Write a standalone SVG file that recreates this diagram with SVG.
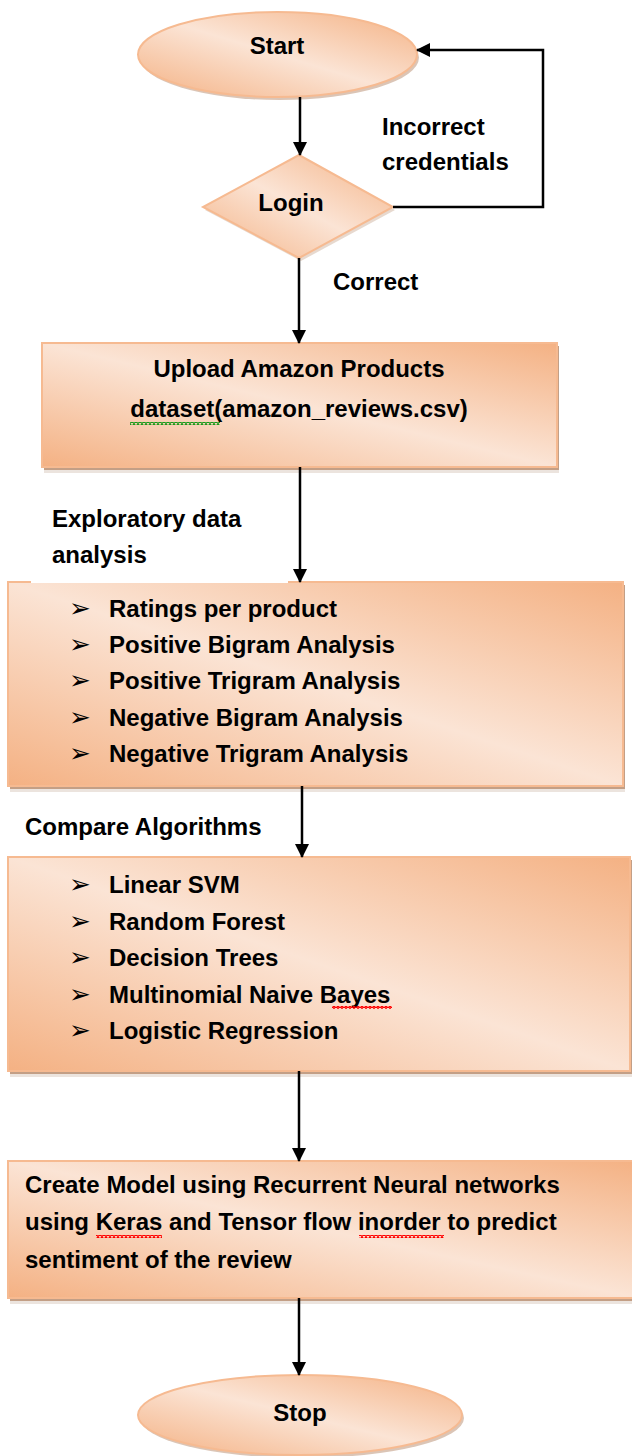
<svg xmlns="http://www.w3.org/2000/svg" width="632" height="1456" viewBox="0 0 632 1456">
  <defs>
    <linearGradient id="fillG" x1="1" y1="0" x2="0" y2="1">
      <stop offset="0" stop-color="#F4B183"/>
      <stop offset="0.5" stop-color="#FBE4D5"/>
      <stop offset="1" stop-color="#F4B183"/>
    </linearGradient>
    <marker id="arr" markerUnits="userSpaceOnUse" markerWidth="14" markerHeight="14" viewBox="0 0 14 14" refX="13" refY="7" orient="auto">
      <path d="M0,0 L14,7 L0,14 Z" fill="#000"/>
    </marker>
    <pattern id="wavyG" width="4" height="3" patternUnits="userSpaceOnUse">
      <path d="M0,2.5 L1,2.5 L2,0.5 L3,2.5 L4,2.5" fill="none" stroke="#1a9a1a" stroke-width="1.4"/>
    </pattern>
    <pattern id="wavyR" width="4" height="3" patternUnits="userSpaceOnUse">
      <path d="M0,2.5 L1,2.5 L2,0.5 L3,2.5 L4,2.5" fill="none" stroke="#ff0000" stroke-width="1.4"/>
    </pattern>
  </defs>
  <style>
    .shape { fill: url(#fillG); stroke: #F6BA91; stroke-width: 2; }
    .shadow { fill: #C39F86; }
    .shadow2 { fill: #ECE4DE; }
    .t { font-family: "Liberation Sans", Arial, sans-serif; font-weight: bold; font-size: 24px; fill: #000; }
    .c { text-anchor: middle; }
    .bul { font-family: "DejaVu Sans", sans-serif; font-weight: bold; font-size: 26px; }
    .conn { fill: none; stroke: #000; stroke-width: 2.5; }
  </style>

  <rect width="632" height="1456" fill="#fff"/>

  <g id="start">
    <ellipse cx="279.5" cy="57.5" rx="139.5" ry="42.5" class="shadow" opacity="0.6"/>
    <ellipse cx="277.5" cy="54.5" rx="139.5" ry="42.5" class="shape"/>
    <text x="277" y="54" class="t c">Start</text>
  </g>

  <g id="login">
    <polygon points="301,158 395,210 301,261 205,210" class="shadow" opacity="0.4"/>
    <polygon points="299,155 393,207 299,258 203,207" class="shape"/>
    <text x="291" y="211" class="t c">Login</text>
  </g>

  <g id="label-incorrect">
    <text class="t"><tspan x="382" y="135">Incorrect</tspan><tspan x="382" y="170">credentials</tspan></text>
  </g>

  <g id="label-correct">
    <text x="333" y="290" class="t">Correct</text>
  </g>

  <g id="upload">
    <rect x="44" y="349" width="515" height="124" class="shadow2"/>
    <rect x="44" y="346" width="515" height="124" class="shadow"/>
    <rect x="42" y="343" width="515" height="124" class="shape"/>
    <text class="t c"><tspan x="299" y="377">Upload Amazon Products</tspan><tspan x="299" y="417">dataset(amazon_reviews.csv)</tspan></text>
    <rect x="130" y="422" width="90" height="3" fill="url(#wavyG)"/>
  </g>

  <g id="eda">
    <rect x="10" y="588" width="615" height="204" class="shadow2"/>
    <rect x="10" y="585" width="615" height="204" class="shadow"/>
    <rect x="8" y="582" width="615" height="204" class="shape"/>
    <text class="t"><tspan x="69" y="617" class="bul">➢</tspan><tspan x="109" y="617">Ratings per product</tspan></text>
    <text class="t"><tspan x="69" y="653" class="bul">➢</tspan><tspan x="109" y="653">Positive Bigram Analysis</tspan></text>
    <text class="t"><tspan x="69" y="689" class="bul">➢</tspan><tspan x="109" y="689">Positive Trigram Analysis</tspan></text>
    <text class="t"><tspan x="69" y="726" class="bul">➢</tspan><tspan x="109" y="726">Negative Bigram Analysis</tspan></text>
    <text class="t"><tspan x="69" y="762" class="bul">➢</tspan><tspan x="109" y="762">Negative Trigram Analysis</tspan></text>
  </g>

  <g id="label-eda">
    <rect x="31" y="578" width="257" height="5" fill="#fff"/>
    <text class="t"><tspan x="52" y="527">Exploratory data</tspan><tspan x="52" y="563">analysis</tspan></text>
  </g>

  <g id="label-compare">
    <text x="25" y="835" class="t">Compare Algorithms</text>
  </g>

  <g id="algorithms">
    <rect x="10" y="863" width="622" height="214" class="shadow2"/>
    <rect x="10" y="860" width="622" height="214" class="shadow"/>
    <rect x="8" y="857" width="622" height="214" class="shape"/>
    <text class="t"><tspan x="69" y="893" class="bul">➢</tspan><tspan x="109" y="893">Linear SVM</tspan></text>
    <text class="t"><tspan x="69" y="929.5" class="bul">➢</tspan><tspan x="109" y="929.5">Random Forest</tspan></text>
    <text class="t"><tspan x="69" y="966" class="bul">➢</tspan><tspan x="109" y="966">Decision Trees</tspan></text>
    <text class="t"><tspan x="69" y="1002.5" class="bul">➢</tspan><tspan x="109" y="1002.5">Multinomial Naive Bayes</tspan></text>
    <text class="t"><tspan x="69" y="1039" class="bul">➢</tspan><tspan x="109" y="1039">Logistic Regression</tspan></text>
    <rect x="332" y="1006" width="60" height="3" fill="url(#wavyR)"/>
  </g>

  <g id="rnn">
    <rect x="10" y="1167" width="630" height="137" class="shadow2"/>
    <rect x="10" y="1164" width="630" height="137" class="shadow"/>
    <rect x="8" y="1161" width="630" height="137" class="shape"/>
    <text class="t"><tspan x="25" y="1193">Create Model using Recurrent Neural networks</tspan><tspan x="25" y="1230">using Keras and Tensor flow inorder to predict</tspan><tspan x="25" y="1268">sentiment of the review</tspan></text>
    <rect x="96" y="1235" width="66" height="3" fill="url(#wavyR)"/>
    <rect x="359" y="1235" width="85" height="3" fill="url(#wavyR)"/>
  </g>

  <g id="stop">
    <ellipse cx="302" cy="1418" rx="162" ry="40" class="shadow" opacity="0.6"/>
    <ellipse cx="300" cy="1415" rx="162" ry="40" class="shape"/>
    <text x="300" y="1421" class="t c">Stop</text>
  </g>

  <g id="connectors">
    <path d="M300,97 L300,155" class="conn" marker-end="url(#arr)"/>
    <path d="M393,207 L543,207 L543,50 L417,50" class="conn" marker-end="url(#arr)"/>
    <path d="M299,258 L299,343" class="conn" marker-end="url(#arr)"/>
    <path d="M300,467 L300,582" class="conn" marker-end="url(#arr)"/>
    <path d="M302,786 L302,857" class="conn" marker-end="url(#arr)"/>
    <path d="M299,1071 L299,1161" class="conn" marker-end="url(#arr)"/>
    <path d="M299,1298 L299,1375" class="conn" marker-end="url(#arr)"/>
  </g>
</svg>
